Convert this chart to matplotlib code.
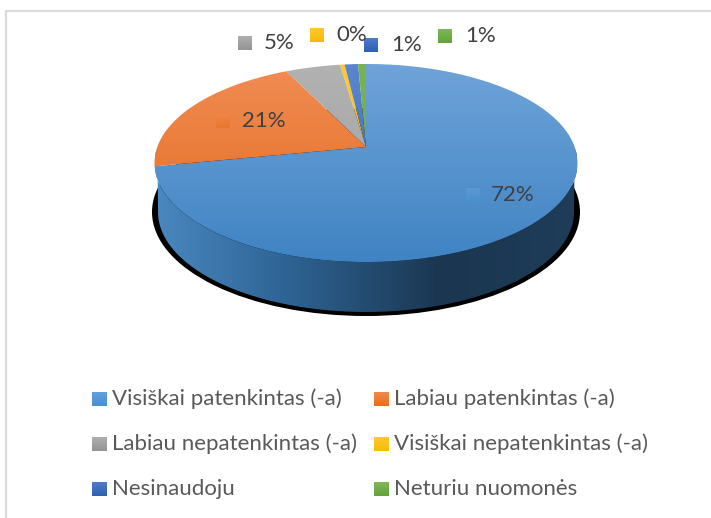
#!/usr/bin/env python3
"""3D-looking pie chart of satisfaction answers, laid out in image pixels."""

import numpy as np
import matplotlib
matplotlib.use("Agg")
import matplotlib.pyplot as plt
from matplotlib.colors import LinearSegmentedColormap
from matplotlib.patches import Ellipse, PathPatch, Rectangle
from matplotlib.path import Path

categories = [
    "Visiškai patenkintas (-a)",
    "Labiau patenkintas (-a)",
    "Labiau nepatenkintas (-a)",
    "Visiškai nepatenkintas (-a)",
    "Nesinaudoju",
    "Neturiu nuomonės",
]
values = [71.9, 20.9, 4.9, 0.4, 1.2, 0.7]

# gradient colours, light end then dark end
light_colors = ["#70a4da", "#f18d55", "#b2b2b2", "#ffc92e", "#5b86cf", "#7cb455"]
dark_colors = ["#3f83c3", "#e2691a", "#a0a0a0", "#f5bb00", "#3764b4", "#65a33a"]
legend_light = ["#62a2dc", "#f28a4c", "#b0b0b0", "#ffc832", "#4f7ccb", "#7fb85a"]
legend_dark = ["#4a90d0", "#e86d1c", "#939393", "#f7bb00", "#2f5fb0", "#62a338"]

label_text_x = [491, 242, 264, 336, 391, 465]
label_y = [195, 121, 43, 35, 45, 36]
marker_x = [466, 216, 238, 310, 364, 438]
legend_swatch_x = [92, 374, 92, 374, 92, 374]
legend_y = [399, 399, 444, 444, 489, 489]

CX, R, Y0, A, C = 366.0, 208.7, 147.0, -72.7, 0.1616


def project(u, v):
    # projective map of the unit disc to the tilted top face
    d = 1 + C * v
    return CX + R * u / d, (A * v + Y0) / d


def gradient(ax, extent, c0, c1, clip=None, alpha=1.0):
    cmap = LinearSegmentedColormap.from_list("g", [c0, c1])
    data = np.linspace(0, 1, 256).reshape(-1, 1)
    im = ax.imshow(data, cmap=cmap, extent=extent, aspect="auto", origin="upper",
                   interpolation="bilinear", alpha=alpha, zorder=3)
    if clip is not None:
        im.set_clip_path(clip)
    return im


plt.rcParams["font.family"] = ["Lato", "DejaVu Sans"]
fig = plt.figure(figsize=(7.11, 5.18), dpi=100)
ax = fig.add_axes([0, 0, 1, 1])
ax.axis("off")

# frame of the pasted chart
ax.add_patch(Rectangle((6, 11), 720, 520, fc="white", ec="#dcdcdc", lw=1.6, zorder=0))

# shadow and side wall
ax.add_patch(Ellipse((366, 212), 428, 208, fc="black", ec="none", zorder=1))
t = np.linspace(0, np.pi, 200)
top_x, top_y = project(np.cos(t), -np.sin(t))
bx = 366 + 208 * np.cos(t[::-1])
by = 212 + 100 * np.sin(t[::-1])
side = PathPatch(Path(np.column_stack([np.r_[top_x, bx], np.r_[top_y, by]])), fc="none", ec="none",
                 transform=ax.transData)
ax.add_patch(side)
side_cmap = LinearSegmentedColormap.from_list(
    "side", [(0, "#4a88c0"), (0.3, "#2f6596"), (0.68, "#1a3650"), (1, "#1f3c59")])
im = ax.imshow(np.linspace(0, 1, 256).reshape(1, -1), cmap=side_cmap, extent=(155, 577, 320, 150),
               aspect="auto", interpolation="bilinear", zorder=2)
im.set_clip_path(side)

# top face, one polygon per slice, clockwise from twelve o'clock
start = 0.0
for value, c0, c1 in zip(values, light_colors, dark_colors):
    end = start + value / sum(values) * 2 * np.pi
    a = np.linspace(start, end, 200)
    px, py = project(np.sin(a), np.cos(a))
    verts = np.column_stack([np.r_[CX, px, CX], np.r_[Y0, py, Y0]])
    wedge = PathPatch(Path(verts), fc="none", ec="none", transform=ax.transData)
    ax.add_patch(wedge)
    gradient(ax, (150, 582, 265, 60), c0, c1, clip=wedge)
    start = end

# data labels with their key squares
for i, value in enumerate(values):
    on_pie = i < 2
    gradient(ax, (marker_x[i], marker_x[i] + 14, label_y[i] + 7, label_y[i] - 7),
             legend_light[i], legend_dark[i], alpha=0.55 if on_pie else 1.0).set_zorder(4)
    ax.text(label_text_x[i], label_y[i], f"{round(value)}%", fontsize=16, color="#404040",
            va="center", ha="left", zorder=5)

# legend
for i, name in enumerate(categories):
    x, y = legend_swatch_x[i], legend_y[i]
    gradient(ax, (x, x + 15, y + 7, y - 7), legend_light[i], legend_dark[i]).set_zorder(4)
    ax.text(x + 20, y, name, fontsize=16, color="#595959", va="center", ha="left", zorder=5)

ax.set_xlim(0, 711)
ax.set_ylim(518, 0)
fig.savefig("out.png", dpi=100)
